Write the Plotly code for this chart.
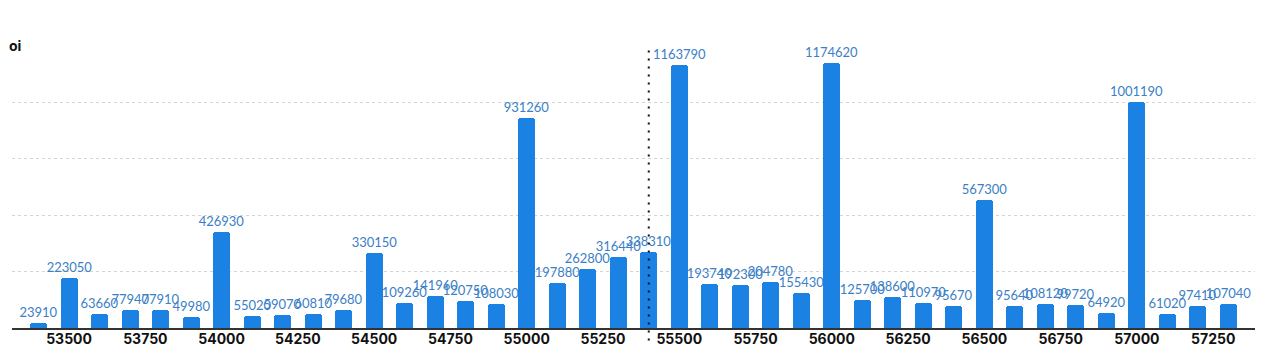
import plotly.graph_objects as go

strikes = [53400, 53500, 53600, 53700, 53800, 53900, 54000, 54100, 54200, 54300,
           54400, 54500, 54600, 54700, 54800, 54900, 55000, 55100, 55200, 55300,
           55400, 55500, 55600, 55700, 55800, 55900, 56000, 56100, 56200, 56300,
           56400, 56500, 56600, 56700, 56800, 56900, 57000, 57100, 57200, 57300]
oi = [23910, 223050, 63660, 77940, 77910, 49980, 426930, 55020, 59070, 60810,
      79680, 330150, 109260, 141960, 120750, 108030, 931260, 197880, 262800, 316440,
      338310, 1163790, 193740, 192300, 204780, 155430, 1174620, 125700, 138600, 110970,
      95670, 567300, 95640, 108120, 99720, 64920, 1001190, 61020, 97410, 107040]
tick_vals = [53500, 53750, 54000, 54250, 54500, 54750, 55000, 55250, 55500,
             55750, 56000, 56250, 56500, 56750, 57000, 57250]
spot_line = 55400
y_grid = [250000, 500000, 750000, 1000000]

fig = go.Figure()
fig.add_trace(go.Bar(
    x=strikes, y=oi, width=56,
    marker=dict(color="#1b82e4", cornerradius=3, line=dict(width=0)),
    text=[str(v) for v in oi], textposition="outside", constraintext="none",
    textfont=dict(family="Lato, Inter, sans-serif", size=13, color="#3b80c6"),
    cliponaxis=False,
))

fig.add_shape(type="line", xref="x", yref="paper", x0=spot_line, x1=spot_line,
              y0=-0.045, y1=1.0, line=dict(color="#111", width=2, dash="2px,6px"))

fig.update_layout(
    width=1266, height=352,
    margin=dict(l=12, r=11, t=50, b=24),
    paper_bgcolor="white", plot_bgcolor="white",
    showlegend=False, bargap=0,
    xaxis=dict(range=[53313, 57387], tickmode="array", tickvals=tick_vals,
               ticktext=[str(v) for v in tick_vals], automargin=False,
               showgrid=False, zeroline=False, showline=True, linecolor="#333",
               linewidth=2, ticks="", ticklen=0, ticklabelstandoff=-3,
               tickfont=dict(family="Inter, sans-serif", size=14, color="#111", weight="bold")),
    yaxis=dict(range=[0, 1231000], tickmode="array", tickvals=y_grid, showticklabels=False,
               showgrid=True, gridcolor="#d4d4d4", griddash="dot", gridwidth=1,
               zeroline=False, showline=False, automargin=False),
    annotations=[dict(text="<b>oi</b>", xref="paper", yref="paper", x=-0.004, y=1.016,
                      xanchor="left", yanchor="middle", showarrow=False,
                      font=dict(family="Inter, sans-serif", size=14, color="#111"))],
)

fig.write_html("out.html")
